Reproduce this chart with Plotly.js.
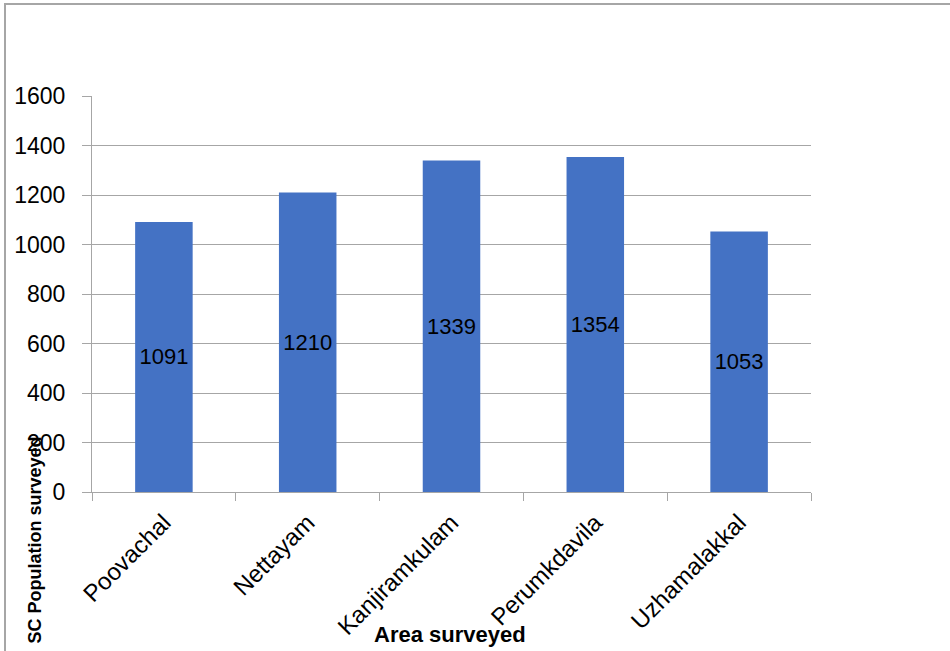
<!DOCTYPE html>
<html><head><meta charset="utf-8">
<script src="https://cdn.plot.ly/plotly-3.0.1.min.js"></script>
<style>html,body{margin:0;padding:0;background:#fff;}#wrap{position:relative;width:950px;height:651px;}
#chart{width:950px;height:651px;}
#frame{position:absolute;left:4px;top:3px;width:946px;height:648px;border-top:2px solid #a6a6a6;border-left:2px solid #a6a6a6;box-sizing:border-box;pointer-events:none;}
</style></head><body>
<div id="wrap"><div id="chart"></div><div id="frame"></div></div>
<script>
const categories = ["Poovachal", "Nettayam", "Kanjiramkulam", "Perumkdavila", "Uzhamalakkal"];
const population = [1091, 1210, 1339, 1354, 1053];
const yTicks = [0, 200, 400, 600, 800, 1000, 1200, 1400, 1600];

const FONT = "Liberation Sans, Arial, sans-serif";
const trace = {
  type: "bar", x: categories, y: population,
  marker: {color: "#4472C4"},
  text: population.map(String), textposition: "inside", insidetextanchor: "middle",
  constraintext: "none", textangle: 0,
  insidetextfont: {family: FONT, size: 22, color: "#000"},
  hoverinfo: "none"
};
const layout = {
  width: 950, height: 651,
  margin: {l: 92, r: 139, t: 96, b: 159},
  paper_bgcolor: "#fff", plot_bgcolor: "#fff",
  showlegend: false, bargap: 0.6,
  font: {family: FONT, size: 22, color: "#000"},
  xaxis: {
    type: "category", tickangle: -45, tickson: "boundaries", ticks: "outside", ticklen: 8,
    tickcolor: "#a6a6a6", tickwidth: 1, showline: true, linecolor: "#a6a6a6", linewidth: 1,
    showgrid: false, ticklabelstandoff: 6, tickfont: {family: FONT, size: 24, color: "#000"}
  },
  yaxis: {
    range: [0, 1600], tickvals: yTicks, ticktext: yTicks.map(String),
    ticks: "outside", ticklen: 9, tickcolor: "#a6a6a6", showline: true, linecolor: "#a6a6a6",
    gridcolor: "#a6a6a6", gridwidth: 1, zeroline: false, ticklabelstandoff: 12,
    tickfont: {family: FONT, size: 23, color: "#000"}
  },
  annotations: [
    {text: "<b>SC Population surveyed</b>", xref: "paper", yref: "paper", x: -0.079, y: -0.122,
     textangle: -90, showarrow: false, xanchor: "center", yanchor: "middle",
     font: {family: FONT, size: 18, color: "#000"}},
    {text: "<b>Area surveyed</b>", xref: "paper", yref: "paper", x: 0.498, y: -0.36,
     showarrow: false, xanchor: "center", yanchor: "middle",
     font: {family: FONT, size: 22, color: "#000"}}
  ]
};
Plotly.newPlot("chart", [trace], layout, {displayModeBar: false, staticPlot: true});
</script></body></html>
